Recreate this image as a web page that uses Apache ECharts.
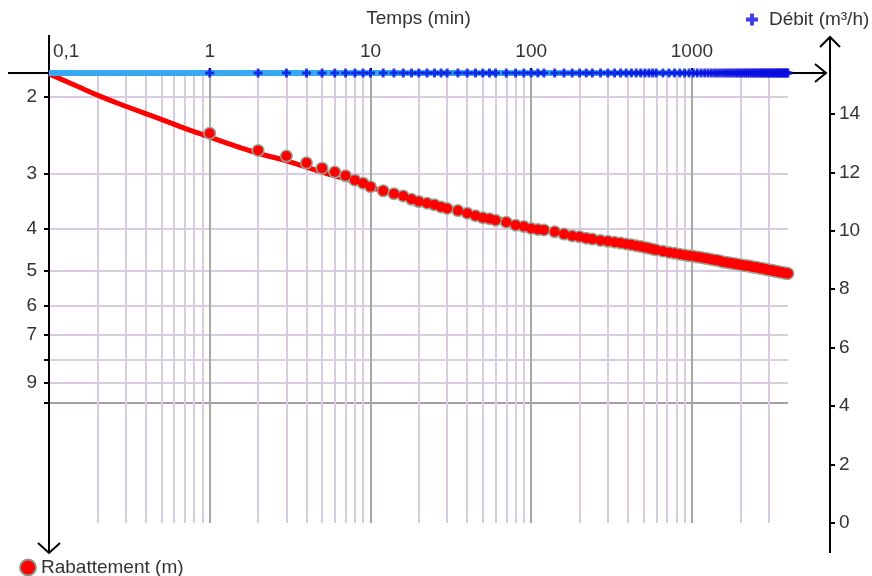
<!DOCTYPE html>
<html>
<head>
<meta charset="utf-8">
<script src="https://cdn.jsdelivr.net/npm/echarts@6.0.0/dist/echarts.min.js"></script>
<style>
  html, body { margin: 0; padding: 0; background: #fff; }
  #chart { width: 872px; height: 576px; }
</style>
</head>
<body>
<div id="chart"></div>
<script>
// ---------- data ----------
const times = [1,2,3,4,5,6,7,8,9,10,12,14,16,18,20,22.5,25,27.5,30,35,40,45,50,55,60,70,80,90,100,110,120,140,160,180,200,220,240,270,300,330,360,390,420,450,480,510,540,570,600,660,720,780,840,900,960,1020,1080,1140,1200,1260,1320,1380,1440,1500,1560,1620,1680,1740,1800,1860,1920,1980,2040,2100,2160,2220,2280,2340,2400,2460,2520,2580,2640,2700,2760,2820,2880,2940,3000,3060,3120,3180,3240,3300,3360,3420,3480,3540,3600,3660,3720,3780,3840,3900,3960];
const rabattement = [2.42,2.65,2.73,2.83,2.91,2.97,3.03,3.10,3.15,3.21,3.28,3.33,3.37,3.43,3.47,3.50,3.53,3.57,3.60,3.64,3.69,3.74,3.78,3.80,3.83,3.87,3.93,3.96,4.00,4.02,4.03,4.07,4.12,4.16,4.18,4.21,4.23,4.26,4.28,4.30,4.32,4.34,4.36,4.38,4.40,4.42,4.44,4.46,4.48,4.51,4.54,4.56,4.58,4.60,4.62,4.63,4.65,4.66,4.68,4.69,4.71,4.72,4.73,4.75,4.77,4.78,4.79,4.80,4.81,4.82,4.83,4.84,4.85,4.86,4.87,4.87,4.88,4.89,4.90,4.91,4.91,4.92,4.93,4.94,4.94,4.95,4.96,4.97,4.97,4.98,4.99,4.99,5.00,5.01,5.02,5.02,5.03,5.03,5.04,5.05,5.05,5.06,5.06,5.07,5.07];
const debit = [15.4,15.4,15.4,15.4,15.4,15.4,15.4,15.4,15.4,15.4,15.4,15.4,15.4,15.4,15.4,15.4,15.4,15.4,15.4,15.4,15.4,15.4,15.4,15.4,15.4,15.4,15.4,15.4,15.4,15.4,15.4,15.4,15.4,15.4,15.4,15.4,15.4,15.4,15.4,15.4,15.4,15.4,15.4,15.4,15.4,15.4,15.4,15.4,15.4,15.4,15.4,15.4,15.4,15.4,15.4,15.4,15.4,15.4,15.4,15.4,15.4,15.4,15.4,15.4,15.4,15.4,15.4,15.4,15.4,15.4,15.4,15.4,15.4,15.4,15.4,15.4,15.4,15.4,15.4,15.4,15.4,15.4,15.4,15.4,15.4,15.4,15.4,15.4,15.4,15.4,15.4,15.4,15.4,15.4,15.4,15.4,15.4,15.4,15.4,15.4,15.4,15.4,15.4,15.4,15.4];
const pumpStart = 0.1;
const fitTimes = [0.1,0.15,0.2,0.3,0.5,0.7,1,1.5,2,3,5,7,10,15,20,30,50,70,100,150,200,300,500,700,1000,1500,2000,3000,3960];
const fitValues = [1.77,1.89,1.98,2.10,2.25,2.36,2.47,2.60,2.69,2.80,2.97,3.08,3.22,3.35,3.44,3.57,3.73,3.84,4.00,4.11,4.19,4.31,4.46,4.55,4.64,4.76,4.85,4.97,5.06];

// ticks / grid
const xLabelValues = [0.1,1,10,100,1000];
const xGridValues = [0.1,0.2,0.3,0.4,0.5,0.6,0.7,0.8,0.9,1,2,3,4,5,6,7,8,9,10,20,30,40,50,60,70,80,90,100,200,300,400,500,600,700,800,900,1000,2000,3000];
const yLeftTicks = [2,3,4,5,6,7,8,9,10];
const yLeftLabels = [2,3,4,5,6,7,9];
const yRightTicks = [0,2,4,6,8,10,12,14];

const FONT = 'Liberation Sans';
const TXT = '#333';
const LIGHT = '#d8cde0';
const DARK = '#a2aaa2';
const plusPath = 'path://M3.4,0h3.2v3.4h3.4v3.2h-3.4v3.4h-3.2v-3.4h-3.4v-3.2h3.4z';

const chart = echarts.init(document.getElementById('chart'), null, {renderer: 'canvas'});

const option = {
  animation: false,
  textStyle: { fontFamily: FONT },
  grid: { left: 49, right: 84, top: 73, bottom: 53, containLabel: false, outerBoundsMode: 'none' },
  legend: [
    {
      data: [{ name: 'Rabattement (m)', itemStyle: { color: '#ff0000', borderColor: '#8c9a8c', borderWidth: 2 } }],
      left: 14, top: 553,
      itemWidth: 16, itemHeight: 16,
      textStyle: { fontSize: 19, color: TXT, fontFamily: FONT }
    },
    {
      data: [{ name: 'Débit (m³/h)', icon: plusPath }],
      left: 741, top: 5,
      itemWidth: 12, itemHeight: 12,
      textStyle: { fontSize: 19, color: TXT, fontFamily: FONT, padding: [0,0,0,6] }
    }
  ],
  xAxis: [
    {
      type: 'log', logBase: 10, position: 'top',
      min: 0.1, max: 3960,
      name: 'Temps (min)', nameLocation: 'middle', nameGap: 45, nameMoveOverlap: false,
      nameTextStyle: { fontSize: 19, color: TXT, fontFamily: FONT },
      axisLine: { show: false },
      axisTick: { show: false, customValues: xGridValues },
      axisLabel: {
        customValues: xLabelValues,
        fontSize: 19, color: TXT, fontFamily: FONT, margin: 12,
        alignMinLabel: 'left',
        formatter: function (v) {
          if (Math.abs(v - 0.1) < 1e-9) return '{first|0,1}';
          return String(Math.round(v));
        },
        rich: { first: { fontSize: 19, color: TXT, fontFamily: FONT, padding: [0,0,0,4] } }
      },
      splitLine: {
        show: true,
        lineStyle: { width: 2, color: [DARK, LIGHT, LIGHT, LIGHT, LIGHT, LIGHT, LIGHT, LIGHT, LIGHT] }
      },
      minorTick: { show: false }, minorSplitLine: { show: false }
    },
    {
      type: 'log', logBase: 10, position: 'top',
      min: 0.1, max: 3960,
      axisLine: { show: false },
      axisTick: { show: true, customValues: [1,10,100,1000], length: 5, lineStyle: { color: '#000', width: 2 } },
      axisLabel: { show: false },
      splitLine: { show: false }
    }
  ],
  yAxis: [
    {
      type: 'log', logBase: 10, inverse: true, position: 'left',
      min: 1.762, max: 18.9,
      axisLine: { show: false },
      axisTick: { show: true, customValues: yLeftTicks, length: 5, lineStyle: { color: '#000', width: 2 } },
      axisLabel: {
        customValues: yLeftLabels, fontSize: 19, color: TXT, fontFamily: FONT, margin: 12,
        formatter: function (v) { return String(Math.round(v)); }
      },
      splitLine: {
        show: true,
        lineStyle: { width: 2, color: [LIGHT, LIGHT, LIGHT, LIGHT, LIGHT, LIGHT, LIGHT, LIGHT, '#a89ca8'] }
      }
    },
    {
      type: 'value', position: 'right', offset: 42,
      min: 0, max: 15.4,
      axisLine: { show: false },
      axisTick: { show: true, inside: false, customValues: yRightTicks, length: 5, lineStyle: { color: '#000', width: 2 } },
      axisLabel: { customValues: yRightTicks, fontSize: 19, color: TXT, fontFamily: FONT, margin: 9 },
      splitLine: { show: false }
    }
  ],
  graphic: [
    { type: 'polyline', z: 1, shape: { points: [[8,73],[826,73]] }, style: { stroke: '#000', lineWidth: 2 } },
    { type: 'polyline', z: 1, shape: { points: [[815,64],[826,73],[815,82]] }, style: { stroke: '#000', lineWidth: 2, fill: null } },
    { type: 'polyline', z: 1, shape: { points: [[49,35],[49,553]] }, style: { stroke: '#000', lineWidth: 2 } },
    { type: 'polyline', z: 1, shape: { points: [[38,543],[49,553],[60,543]] }, style: { stroke: '#000', lineWidth: 2, fill: null } },
    { type: 'polyline', z: 1, shape: { points: [[830,37],[830,553]] }, style: { stroke: '#000', lineWidth: 2 } },
    { type: 'polyline', z: 1, shape: { points: [[820,47],[830,37],[840,47]] }, style: { stroke: '#000', lineWidth: 2, fill: null } }
  ],
  series: [
    {
      name: 'fit', type: 'line', xAxisIndex: 0, yAxisIndex: 0,
      data: fitTimes.map((t, i) => [t, fitValues[i]]),
      smooth: true, showSymbol: false, symbol: 'none',
      lineStyle: { color: '#ff0000', width: 5 },
      z: 3, silent: true
    },
    {
      name: 'halo', type: 'scatter', xAxisIndex: 0, yAxisIndex: 0,
      data: times.map((t, i) => [t, rabattement[i]]),
      symbol: 'circle', symbolSize: 13,
      itemStyle: { color: '#98a898', opacity: 1 },
      z: 4, silent: true
    },
    {
      name: 'Rabattement (m)', type: 'scatter', xAxisIndex: 0, yAxisIndex: 0,
      data: times.map((t, i) => [t, rabattement[i]]),
      symbol: 'circle', symbolSize: 10,
      itemStyle: { color: '#ff0000', opacity: 1 },
      z: 5
    },
    {
      name: 'band', type: 'line', xAxisIndex: 0, yAxisIndex: 1,
      data: [[pumpStart, debit[0]]].concat(times.map((t, i) => [t, debit[i]])),
      showSymbol: false, symbol: 'none',
      lineStyle: { color: '#36a8f4', width: 6 },
      clip: false, z: 6, silent: true
    },
    {
      name: 'Débit (m³/h)', type: 'scatter', xAxisIndex: 0, yAxisIndex: 1,
      data: times.map((t, i) => [t, debit[i]]),
      symbol: plusPath, symbolSize: 9,
      itemStyle: { color: '#0c0ce0' },
      clip: false, z: 7
    }
  ]
};
chart.setOption(option);
</script>
</body>
</html>
